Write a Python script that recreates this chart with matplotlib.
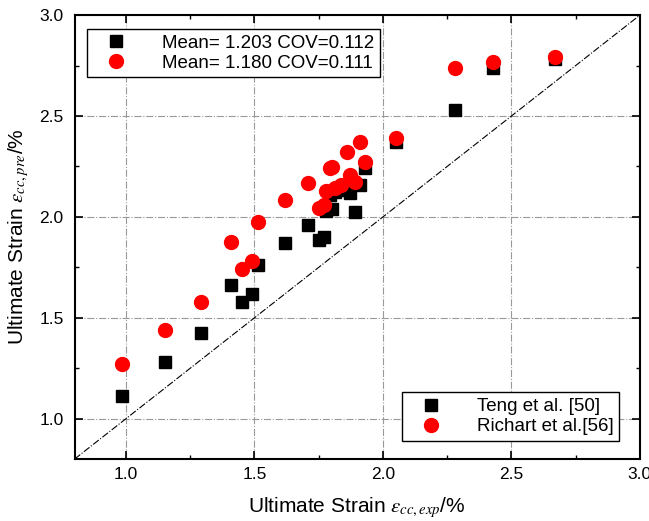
import numpy as np
import matplotlib.pyplot as plt
from matplotlib.lines import Line2D
from matplotlib.ticker import MultipleLocator

plt.rcParams['font.family'] = ['Liberation Sans', 'DejaVu Sans']
plt.rcParams['mathtext.fontset'] = 'stix'

# experimental strain (x) and predictions of the two models (y)
exp_strain = [0.985, 1.15, 1.29, 1.41, 1.45, 1.49, 1.515, 1.62, 1.71, 1.75, 1.77, 1.78, 1.795,
              1.80, 1.815, 1.835, 1.86, 1.87, 1.89, 1.91, 1.93, 2.05, 2.28, 2.43, 2.67]
teng_pre = [1.11, 1.28, 1.425, 1.66, 1.58, 1.62, 1.76, 1.87, 1.96, 1.885, 1.90, 2.03, 2.11,
            2.04, 2.125, 2.135, 2.15, 2.12, 2.025, 2.16, 2.24, 2.37, 2.53, 2.74, 2.78]
richart_pre = [1.27, 1.44, 1.58, 1.875, 1.74, 1.78, 1.975, 2.085, 2.17, 2.045, 2.06, 2.13, 2.24,
               2.245, 2.145, 2.16, 2.32, 2.21, 2.175, 2.37, 2.27, 2.39, 2.74, 2.77, 2.79]

stats_labels = ['Mean= 1.203 COV=0.112', 'Mean= 1.180 COV=0.111']
series_labels = ['Teng et al. [50]', 'Richart et al.[56]']

fig = plt.figure(figsize=(6.49, 5.21), dpi=100)
ax = fig.add_axes([0.115, 0.119, 0.871, 0.852])

ax.grid(True, color='#999999', linestyle='-.', linewidth=0.8)
ax.set_axisbelow(True)

ax.plot([0.8, 3.0], [0.8, 3.0], color='black', linestyle='-.', linewidth=0.8)
ax.plot(exp_strain, teng_pre, 's', color='black', markersize=8.5, linestyle='none')
ax.plot(exp_strain, richart_pre, 'o', color='red', markersize=10, linestyle='none')

ax.set_xlim(0.8, 3.0)
ax.set_ylim(0.8, 3.0)
ax.xaxis.set_minor_locator(MultipleLocator(0.25))
ax.yaxis.set_minor_locator(MultipleLocator(0.25))
ax.set_xticks([1.0, 1.5, 2.0, 2.5, 3.0])
ax.set_yticks([1.0, 1.5, 2.0, 2.5, 3.0])
ax.tick_params(which='both', direction='in', top=True, right=True, labelsize=12.5)
ax.tick_params(which='major', length=6, width=1.2)
ax.tick_params(axis='x', which='major', pad=6)
ax.tick_params(axis='y', which='major', pad=8)
ax.tick_params(which='minor', length=3, width=1.0)
for s in ax.spines.values():
    s.set_linewidth(1.5)

ax.set_xlabel(r'Ultimate Strain $\varepsilon_{cc,exp}$/%', fontsize=15, labelpad=9)
ax.set_ylabel(r'Ultimate Strain $\varepsilon_{cc,pre}$/%', fontsize=15, labelpad=6)

sq = Line2D([], [], marker='s', color='black', linestyle='none', markersize=8.5)
ci = Line2D([], [], marker='o', color='red', linestyle='none', markersize=10)

leg1 = ax.legend([sq, ci], stats_labels, loc='upper left', bbox_to_anchor=(0.005, 0.99),
                 fontsize=13.5, frameon=True, fancybox=False, edgecolor='black',
                 framealpha=1, borderpad=0.3, handletextpad=1.2, labelspacing=0.15,
                 handlelength=2.5)
leg1.get_frame().set_linewidth(1.0)
ax.add_artist(leg1)

leg2 = ax.legend([sq, ci], series_labels, loc='lower right', bbox_to_anchor=(0.98, 0.02),
                 fontsize=13.5, frameon=True, fancybox=False, edgecolor='black',
                 framealpha=1, borderpad=0.3, handletextpad=1.2, labelspacing=0.15,
                 handlelength=2.5)
leg2.get_frame().set_linewidth(1.0)

fig.savefig('out.png', dpi=100)
